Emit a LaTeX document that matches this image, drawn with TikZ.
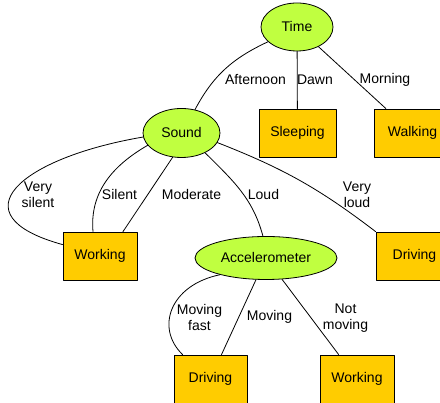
\documentclass[tikz,border=0pt]{standalone}
\usepackage{fontspec}
\setmainfont{Liberation Sans}
\usetikzlibrary{shapes.geometric}
\definecolor{testgreen}{RGB}{192,255,64}
\definecolor{leafyellow}{RGB}{255,204,0}

\begin{document}
\begin{tikzpicture}
			[line cap=round,line join=round,x=1pt,y=1pt,line width=0.8pt,
			every node/.style={font=\fontsize{14}{16}\selectfont},
			test/.style={ellipse,draw,fill=testgreen,inner sep=0pt},
			leaf/.style={rectangle,draw,fill=leafyellow,minimum width=75pt,minimum height=48pt},
			lbl/.style={align=center,inner sep=0pt}]
			\useasboundingbox (0,0) rectangle (440,403);
			\clip (0,0) rectangle (440,403);
			\node [test,minimum width=72pt,minimum height=48pt] (time) at (297,376) {Time};
			\node [test,minimum width=77pt,minimum height=49pt] (sound) at (181.5,270) {Sound};
			\node [leaf,minimum width=77pt] (sleeping) at (297.5,270) {Sleeping};
			\node [leaf,minimum width=77pt] (walking) at (412.5,270) {Walking};
			\node [leaf,minimum width=74pt] (working1) at (100,147) {Working};
			\node [test,minimum width=142pt,minimum height=43pt] (accel) at (266,145) {Accelerometer};
			\node [leaf,minimum width=77pt] (driving1) at (414.5,147) {Driving};
			\node [leaf,minimum width=73pt] (driving2) at (210.5,24) {Driving};
			\node [leaf,minimum width=74pt] (working2) at (357,24) {Working};
			\draw (time.207) to[out=205,in=62] (sound.60);
			\draw (time) -- (sleeping);
			\draw (time) -- (walking);
			\draw (sound.186) .. controls (20,245) and (-45,188) .. ([yshift=-13]working1.north west);
			\draw (sound.200) to[out=210,in=95] ([xshift=-7]working1.north);
			\draw (sound.250) -- ([xshift=23]working1.north);
			\draw (sound.-40) to[out=-45,in=105] (accel.98);
			\draw (sound.-15) to[bend left=8] (driving1.north west);
			\draw (accel.200) .. controls (170,118) and (155,75) .. ([xshift=9]driving2.north west);
			\draw (accel) -- ([xshift=11]driving2.north);
			\draw (accel) -- (working2);
			\node [lbl] (afternoon) at (255.5,323) {Afternoon};
			\node [lbl] (dawn) at (315,323) {Dawn};
			\node [lbl] (morning) at (385,323) {Morning};
			\node [lbl] (verysilent) at (38,208) {Very\\silent};
			\node [lbl] (silent) at (119.5,208) {Silent};
			\node [lbl] (moderate) at (191.5,208) {Moderate};
			\node [lbl] (loud) at (263.5,208) {Loud};
			\node [lbl] (veryloud) at (357,208) {Very\\loud};
			\node [lbl] (movingfast) at (199.5,85) {Moving\\fast};
			\node [lbl] (moving) at (269.5,86) {Moving};
			\node [lbl] (notmoving) at (345.5,85) {Not\\moving};
		\end{tikzpicture}
\end{document}
